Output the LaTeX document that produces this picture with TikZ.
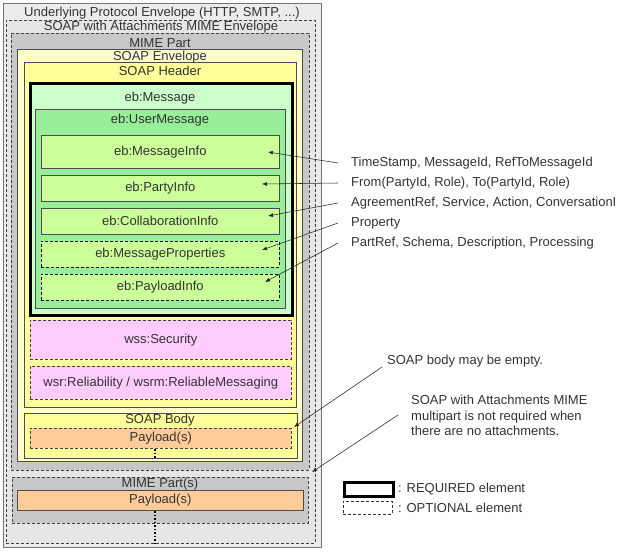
\documentclass[tikz,border=0pt]{standalone}
\usepackage{fontspec}
\setmainfont{Liberation Sans}
\usetikzlibrary{arrows.meta}
\definecolor{txt}{HTML}{333333}
\definecolor{outerfill}{HTML}{ECECEC}
\definecolor{swafill}{HTML}{E6E6E6}
\definecolor{mimefill}{HTML}{C8C8C8}
\definecolor{envfill}{HTML}{FFFFCC}
\definecolor{hdrfill}{HTML}{FFFF99}
\definecolor{msgfill}{HTML}{CCFFCC}
\definecolor{userfill}{HTML}{99EE99}
\definecolor{infofill}{HTML}{CCFF99}
\definecolor{pinkfill}{HTML}{FFCCFF}
\definecolor{orangefill}{HTML}{FFCC99}
\tikzset{
  x=1pt, y=-1pt,
  every node/.style={font=\fontsize{13}{15}\selectfont, text=txt},
  box/.style={rectangle, anchor=north west, inner sep=0pt, line width=0.6pt},
  solidbox/.style={box, draw=black!70},
  dashbox/.style={box, draw=black!75, dash pattern=on 3pt off 2pt},
  lbl/.style={inner sep=0pt},
  ann/.style={draw=black!85, line width=0.55pt, -{Latex[length=5pt,width=4pt]}},
  annt/.style={anchor=west, inner xsep=13pt, inner ysep=0pt},
  dotline/.style={draw=black, line width=1.6pt, dash pattern=on 1.5pt off 2pt},
}
\newcommand{\bx}[8]{\node[#2, fill=#3, minimum width=#6pt-#4pt, minimum height=#7pt-#5pt] (#1) at (#4,#5) {#8};}
\begin{document}
\begin{tikzpicture}
\useasboundingbox (0,0) rectangle (622,558);
% outer boxes
\bx{outer}{solidbox, draw=black!55}{outerfill}{3}{3}{321}{547}{}
\node[lbl] (outerl) at (162,13) {Underlying Protocol Envelope (HTTP, SMTP, ...)};
\bx{swa}{dashbox}{swafill}{6}{20}{315}{543}{}
\node[lbl] (swal) at (161,27) {SOAP with Attachments MIME Envelope};
\bx{mime}{dashbox}{mimefill}{11}{33}{309}{470}{}
\node[lbl] (mimel) at (160,43) {MIME Part};
\bx{env}{solidbox}{envfill}{17}{49}{302}{461}{}
\node[lbl] (envl) at (160,57) {SOAP Envelope};
\bx{hdr}{solidbox}{hdrfill}{24}{62}{296}{407}{}
\node[lbl] (hdrl) at (160,71) {SOAP Header};
\bx{msg}{box, draw=black, line width=2.5pt}{msgfill}{29}{82}{291}{314}{}
\node[lbl] (msgl) at (160,98) {eb:Message};
\bx{user}{solidbox}{userfill}{35}{109}{285}{308}{}
\node[lbl] (userl) at (160,120) {eb:UserMessage};
\bx{mi}{solidbox}{infofill}{41}{135}{279}{168}{eb:MessageInfo}
\bx{pi}{solidbox}{infofill}{41}{175}{279}{201}{eb:PartyInfo}
\bx{ci}{solidbox}{infofill}{41}{208}{279}{234}{eb:CollaborationInfo}
\bx{mp}{dashbox, draw=black}{infofill}{41}{241}{279}{267}{eb:MessageProperties}
\bx{pl}{dashbox, draw=black}{infofill}{41}{274}{279}{300}{eb:PayloadInfo}
\bx{sec}{dashbox}{pinkfill}{30}{320}{291}{359}{wss:Security}
\bx{rel}{dashbox}{pinkfill}{30}{366}{291}{399}{wsr:Reliability / wsrm:ReliableMessaging}
\bx{body}{solidbox}{hdrfill}{24}{413}{297}{458}{}
\node[lbl] (bodyl) at (160,420) {SOAP Body};
\bx{pay1}{dashbox}{orangefill}{30}{428}{291}{448}{Payload(s)}
\bx{mimes}{dashbox}{mimefill}{12}{477}{308}{523}{}
\node[lbl] (mimesl) at (160,484) {MIME Part(s)};
\bx{pay2}{solidbox}{orangefill}{17}{490}{303}{510}{Payload(s)}
% dotted continuation lines
\coordinate (d1a) at (155,449);
\coordinate (d1b) at (155,458);
\coordinate (d2a) at (155,511);
\coordinate (d2b) at (155,543);
\draw[dotline] (d1a) -- (d1b);
\draw[dotline] (d2a) -- (d2b);
% annotations
\node[annt] (t1) at (338,163) {TimeStamp, MessageId, RefToMessageId};
\node[annt] (t2) at (338,183) {From(PartyId, Role), To(PartyId, Role)};
\node[annt] (t3) at (338,203) {AgreementRef, Service, Action, ConversationI};
\node[annt] (t4) at (338,223) {Property};
\node[annt] (t5) at (338,243) {PartRef, Schema, Description, Processing};
\coordinate (a1) at (268,152);
\coordinate (a2) at (262,184);
\coordinate (a3) at (268,216);
\coordinate (a4) at (262,250);
\coordinate (a5) at (265,282);
\draw[ann] (t1.west) -- (a1);
\draw[ann] (t2.west) -- (a2);
\draw[ann] (t3.west) -- (a3);
\draw[ann] (t4.west) -- (a4);
\draw[ann] (t5.west) -- (a5);
\node[anchor=west, inner sep=0pt] (n1) at (387,361) {SOAP body may be empty.};
\coordinate (n1s) at (382,367);
\coordinate (n1e) at (294,427);
\draw[ann] (n1s) -- (n1e);
\node[anchor=north west, inner sep=0pt, align=left, font=\fontsize{13}{15.5}\selectfont] (n2) at (411,395) {SOAP with Attachments MIME\\multipart is not required when\\there are no attachments.};
\coordinate (n2s) at (398,415);
\coordinate (n2e) at (312,472);
\draw[ann] (n2s) -- (n2e);
% legend
\node[box, draw=black, line width=2.6pt, fill=white, minimum width=49pt, minimum height=14pt] (lreq) at (343,481) {};
\node[anchor=west, inner sep=0pt] (lreqt) at (398,489) {: REQUIRED element};
\node[box, draw=black!80, line width=0.5pt, dash pattern=on 3pt off 2pt, minimum width=49pt, minimum height=13pt] (lopt) at (343,501) {};
\node[anchor=west, inner sep=0pt] (loptt) at (398,508) {: OPTIONAL element};
\end{tikzpicture}
\end{document}
